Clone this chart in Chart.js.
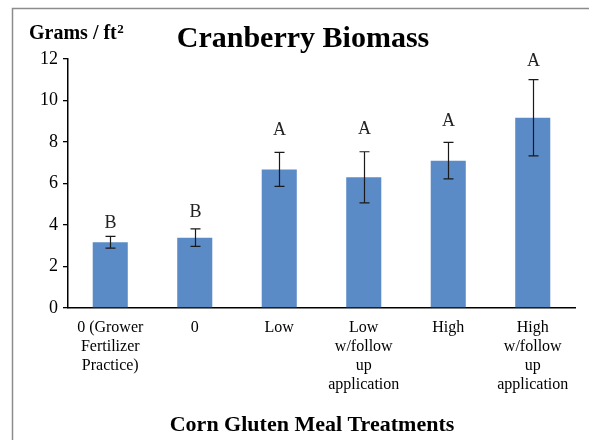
<!DOCTYPE html>
<html><head><meta charset="utf-8">
<script src="https://cdn.jsdelivr.net/npm/chart.js@4.4.1/dist/chart.umd.min.js"></script>
<style>html,body{margin:0;padding:0;background:#fff;}#wrap{width:589px;height:440px;position:relative;}</style>
</head><body><div id="wrap"><canvas id="c" width="589" height="440"></canvas></div>
<script>
const categories = [["0 (Grower","Fertilizer","Practice)"],["0"],["Low"],["Low","w/follow","up","application"],["High"],["High","w/follow","up","application"]];
const biomass = [3.17, 3.39, 6.68, 6.30, 7.10, 9.17];
const errorPlusMinus = [0.28, 0.42, 0.82, 1.23, 0.88, 1.84];
const groupLetters = ["B","B","A","A","A","A"];
const letterAnchors = [4.10, 4.59, 8.58, 8.63, 8.98, 11.87];
const yTicks = [0, 2, 4, 6, 8, 10, 12];
const chartTitle = "Cranberry Biomass";
const yTitle = "Grams / ft";
const yTitleSup = "2";
const xTitle = "Corn Gluten Meal Treatments";

const SERIF = "'Liberation Serif','Times New Roman',serif";

const overlay = {
  id: 'overlay',
  beforeDraw(chart) {
    const ctx = chart.ctx;
    ctx.save();
    ctx.strokeStyle = '#8c8c8c';
    ctx.lineWidth = 1.5;
    ctx.beginPath();
    ctx.moveTo(12.5, 460);
    ctx.lineTo(12.5, 8.5);
    ctx.lineTo(620, 8.5);
    ctx.stroke();
    ctx.restore();
  },
  afterDatasetsDraw(chart) {
    const ctx = chart.ctx, xs = chart.scales.x, ys = chart.scales.y;
    ctx.save();
    ctx.strokeStyle = '#1a1a1a';
    ctx.lineWidth = 1.2;
    biomass.forEach((v, i) => {
      const cx = Math.round(xs.getPixelForValue(i)) + 0.5;
      const t = ys.getPixelForValue(v + errorPlusMinus[i]);
      const b = ys.getPixelForValue(v - errorPlusMinus[i]);
      ctx.beginPath();
      ctx.moveTo(cx, t); ctx.lineTo(cx, b);
      ctx.moveTo(cx - 5, t); ctx.lineTo(cx + 5, t);
      ctx.moveTo(cx - 5, b); ctx.lineTo(cx + 5, b);
      ctx.stroke();
      ctx.fillStyle = '#222';
      ctx.font = "18px " + SERIF;
      ctx.textAlign = 'center';
      ctx.textBaseline = 'middle';
      ctx.fillText(groupLetters[i], cx, ys.getPixelForValue(letterAnchors[i]));
    });
    ctx.fillStyle = '#000';
    ctx.textBaseline = 'alphabetic';
    ctx.textAlign = 'center';
    ctx.font = "bold 30px " + SERIF;
    ctx.fillText(chartTitle, 303, 47);
    ctx.font = "bold 22px " + SERIF;
    ctx.fillText(xTitle, 312, 431);
    ctx.textAlign = 'left';
    ctx.font = "bold 20px " + SERIF;
    ctx.fillText(yTitle, 29, 39);
    const w = ctx.measureText(yTitle).width;
    ctx.font = "bold 13px " + SERIF;
    ctx.fillText(yTitleSup, 29 + w + 0.5, 33);
    ctx.restore();
  }
};

new Chart(document.getElementById('c'), {
  type: 'bar',
  data: {
    labels: categories,
    datasets: [{
      data: biomass,
      backgroundColor: '#5B8BC6',
      borderWidth: 0,
      barPercentage: 0.415,
      categoryPercentage: 1.0
    }]
  },
  options: {
    responsive: false,
    animation: false,
    devicePixelRatio: 1,
    layout: { padding: { top: 59, right: 14, left: 0, bottom: 0 } },
    plugins: { legend: { display: false }, title: { display: false }, tooltip: { enabled: false } },
    scales: {
      y: {
        min: 0, max: 12,
        afterBuildTicks(s) { s.ticks = yTicks.map(v => ({ value: v })); },
        afterFit(s) { s.width = 68; },
        ticks: { color: '#000', padding: 5, font: { family: SERIF, size: 18 } },
        grid: { drawOnChartArea: false, drawTicks: true, tickLength: 5, color: '#000', lineWidth: 1.3 },
        border: { color: '#000', width: 1.5 }
      },
      x: {
        afterFit(s) { s.height = 132; },
        ticks: { color: '#000', padding: 10, maxRotation: 0, minRotation: 0, autoSkip: false, font: { family: SERIF, size: 16, lineHeight: 1.2 } },
        grid: { display: false, drawTicks: false },
        border: { color: '#000', width: 1.5 }
      }
    }
  },
  plugins: [overlay]
});
</script></body></html>
